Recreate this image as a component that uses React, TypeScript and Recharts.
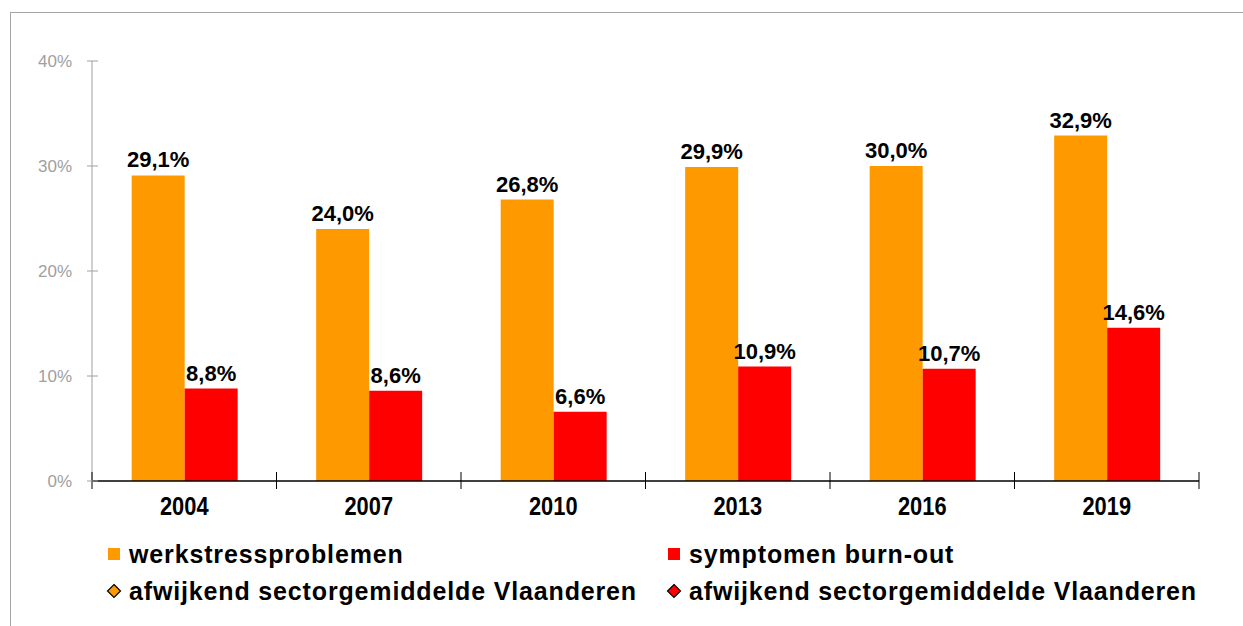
import React from "react";
import { BarChart, Bar, XAxis, YAxis, LabelList, Legend } from "recharts";

const categories = ["2004", "2007", "2010", "2013", "2016", "2019"];
const werkstress = [29.1, 24.0, 26.8, 29.9, 30.0, 32.9];
const burnout = [8.8, 8.6, 6.6, 10.9, 10.7, 14.6];
const yTicks = [0, 10, 20, 30, 40];

const seriesNames = ["werkstressproblemen", "symptomen burn-out"];
const seriesColors = ["#FF9900", "#FF0000"];
const legendItems = [
  { name: "werkstressproblemen", color: "#FF9900", shape: "square" },
  { name: "symptomen burn-out", color: "#FF0000", shape: "square" },
  { name: "afwijkend sectorgemiddelde Vlaanderen", color: "#FF9900", shape: "diamond" },
  { name: "afwijkend sectorgemiddelde Vlaanderen", color: "#FF0000", shape: "diamond" },
];

const data = categories.map((c, i) => ({ year: c, a: werkstress[i], b: burnout[i] }));

const W = 1243;
const H = 626;
const PLOT_LEFT = 92;
const PLOT_RIGHT = 1199;
const PLOT_TOP = 61;
const PLOT_BOTTOM = 481;
const Y_AXIS_W = 60;
const X_AXIS_H = 40;
const BAND = (PLOT_RIGHT - PLOT_LEFT) / categories.length;

const FONT = "'Liberation Sans', Arial, sans-serif";

const fmt = (v: number) => v.toFixed(1).replace(".", ",") + "%";

const XTick = (props: any) => {
  const { x, y, payload, index } = props;
  const left = x - BAND / 2;
  const isLast = index === categories.length - 1;
  return (
    <g>
      <line x1={left} x2={left} y1={y - 9} y2={y + 8} stroke="#000" strokeWidth={1} />
      {isLast && (
        <line x1={x + BAND / 2} x2={x + BAND / 2} y1={y - 9} y2={y + 8} stroke="#000" strokeWidth={1} />
      )}
      <text
        transform={`translate(${x},${y + 34}) scale(0.84,1)`}
        x={0}
        y={0}
        textAnchor="middle"
        fontFamily={FONT}
        fontWeight="bold"
        fontSize={26}
        fill="#000"
      >
        {payload.value}
      </text>
    </g>
  );
};

const YTick = (props: any) => {
  const { x, y, payload } = props;
  return (
    <g>
      <line x1={x - 5} x2={x + 6} y1={y} y2={y} stroke="#A0A0A0" strokeWidth={1} />
      <text
        x={x - 20}
        y={y + 6}
        textAnchor="end"
        fontFamily={FONT}
        fontSize={17}
        fill="#A0A0A0"
      >
        {payload.value + "%"}
      </text>
    </g>
  );
};

const LegendContent = () => {
  const colX = [108, 668];
  const rowY = [554, 591];
  const top = 530;
  return (
    <svg width={W} height={96} style={{ display: "block" }}>
      {legendItems.map((it, i) => {
        const cx = colX[i % 2];
        const cy = rowY[Math.floor(i / 2)] - top;
        return (
          <g key={i}>
            {it.shape === "square" ? (
              <rect x={cx} y={cy - 6} width={12} height={12} fill={it.color} />
            ) : (
              <polygon
                points={`${cx + 6},${cy - 6.5} ${cx + 12.5},${cy} ${cx + 6},${cy + 6.5} ${cx - 0.5},${cy}`}
                fill={it.color}
                stroke="#000"
                strokeWidth={1.2}
              />
            )}
            <text
              x={cx + 21}
              y={cy + 9}
              fontFamily={FONT}
              fontWeight="bold"
              fontSize={25}
              letterSpacing={0.85}
              fill="#000"
            >
              {it.name}
            </text>
          </g>
        );
      })}
    </svg>
  );
};

export default function App() {
  return (
    <div
      style={{
        position: "fixed",
        left: 0,
        top: 0,
        width: W,
        height: H,
        overflow: "hidden",
        background: "#fff",
      }}
    >
      <div
        style={{
          position: "absolute",
          left: 10,
          top: 12,
          width: 1400,
          height: 800,
          border: "1px solid #A6A6A6",
        }}
      />
      <div style={{ position: "absolute", left: 0, top: 0 }}>
        <BarChart
          width={W}
          height={H}
          data={data}
          margin={{
            top: PLOT_TOP,
            left: PLOT_LEFT - Y_AXIS_W,
            right: W - PLOT_RIGHT,
            bottom: H - PLOT_BOTTOM - X_AXIS_H,
          }}
          barCategoryGap="21.5%"
          barGap={0}
        >
          <XAxis
            dataKey="year"
            height={X_AXIS_H}
            axisLine={{ stroke: "#000", strokeWidth: 1.3 }}
            tickLine={false}
            tickSize={0}
            tickMargin={0}
            tick={<XTick />}
            interval={0}
          />
          <YAxis
            width={Y_AXIS_W}
            domain={[0, 40]}
            ticks={yTicks}
            axisLine={{ stroke: "#A0A0A0", strokeWidth: 1 }}
            tickLine={false}
            tickSize={0}
            tickMargin={0}
            tick={<YTick />}
          />
          <Legend
            layout="horizontal"
            verticalAlign="middle"
            align="center"
            content={<LegendContent />}
            wrapperStyle={{ top: 530, left: 0, width: W }}
          />
          <Bar dataKey="a" name={seriesNames[0]} fill={seriesColors[0]} isAnimationActive={false}>
            <LabelList
              dataKey="a"
              position="top"
              offset={8}
              formatter={(v: any) => fmt(Number(v))}
              style={{ fontFamily: FONT, fontWeight: "bold", fontSize: 22, fill: "#000" }}
            />
          </Bar>
          <Bar dataKey="b" name={seriesNames[1]} fill={seriesColors[1]} isAnimationActive={false}>
            <LabelList
              dataKey="b"
              position="top"
              offset={8}
              formatter={(v: any) => fmt(Number(v))}
              style={{ fontFamily: FONT, fontWeight: "bold", fontSize: 22, fill: "#000" }}
            />
          </Bar>
        </BarChart>
      </div>
    </div>
  );
}
